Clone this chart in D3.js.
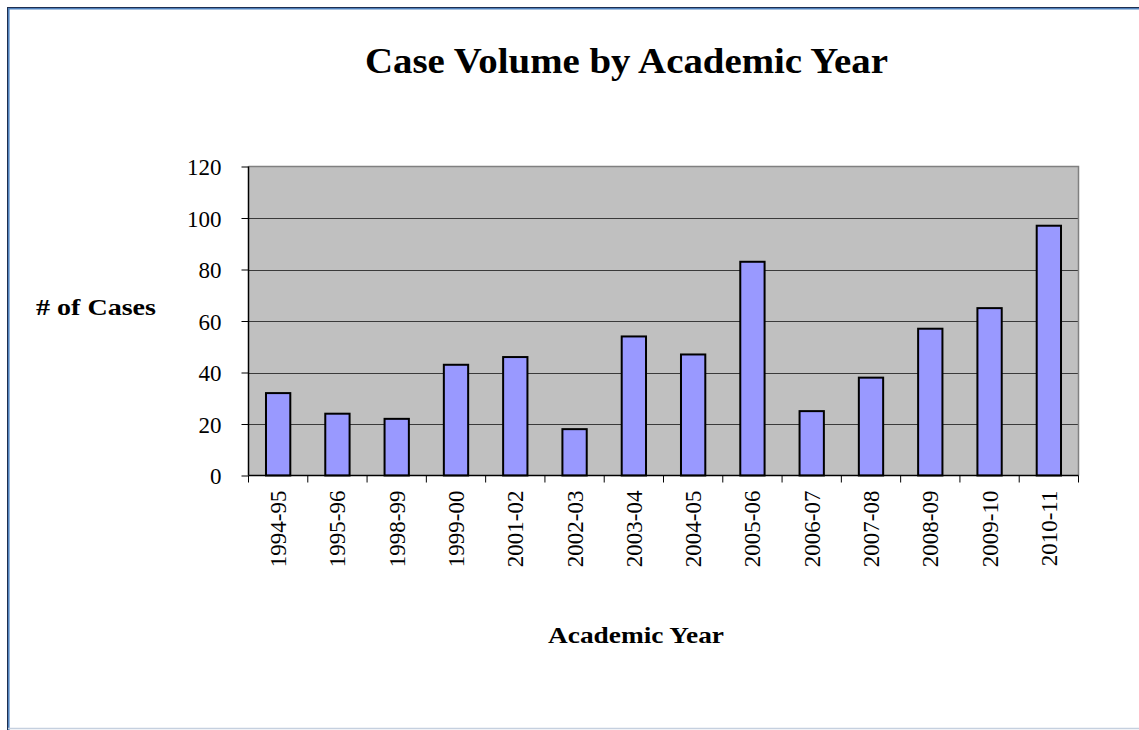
<!DOCTYPE html>
<html>
<head>
<meta charset="utf-8">
<script src="https://cdn.jsdelivr.net/npm/d3@7/dist/d3.min.js"></script>
<style>
  html, body { margin: 0; padding: 0; background: #ffffff; }
  svg { display: block; }
</style>
</head>
<body>
<svg id="chart" width="1139" height="730"></svg>
<script>
const categories = ["1994-95","1995-96","1998-99","1999-00","2001-02","2002-03","2003-04","2004-05","2005-06","2006-07","2007-08","2008-09","2009-10","2010-11"];
const cases = [32, 24, 22, 43, 46, 18, 54, 47, 83, 25, 38, 57, 65, 97];
const yTicks = [0, 20, 40, 60, 80, 100, 120];
const titleText = "Case Volume by Academic Year";
const yLabel = "# of Cases";
const xLabel = "Academic Year";

const svg = d3.select("#chart");
const W = 1139, H = 730;
const plot = { left: 248.5, right: 1078.5, top: 166.5, bottom: 475.5 };

// outer frame
svg.append("line").attr("x1", 7).attr("x2", W).attr("y1", 7.5).attr("y2", 7.5).attr("stroke", "#1f2f4f").attr("stroke-width", 1);
svg.append("line").attr("x1", 8).attr("x2", W).attr("y1", 8.8).attr("y2", 8.8).attr("stroke", "#4f81bd").attr("stroke-width", 1.6);
svg.append("line").attr("x1", 7.5).attr("x2", 7.5).attr("y1", 7).attr("y2", H).attr("stroke", "#1f2f4f").attr("stroke-width", 1);
svg.append("line").attr("x1", 8.8).attr("x2", 8.8).attr("y1", 8).attr("y2", H).attr("stroke", "#4f81bd").attr("stroke-width", 1.6);
svg.append("line").attr("x1", 8).attr("x2", W).attr("y1", 728.5).attr("y2", 728.5).attr("stroke", "#c5d0df").attr("stroke-width", 1.5);

const x = d3.scaleBand().domain(categories).range([plot.left, plot.right]).padding(0);
const y = d3.scaleLinear().domain([0, 120]).range([plot.bottom, plot.top]);

// plot background
svg.append("rect")
  .attr("x", plot.left).attr("y", plot.top)
  .attr("width", plot.right - plot.left).attr("height", plot.bottom - plot.top)
  .attr("fill", "#c0c0c0");

// gridlines
svg.append("g").selectAll("line")
  .data(yTicks.filter(d => d > 0 && d < 120))
  .join("line")
  .attr("x1", plot.left).attr("x2", plot.right)
  .attr("y1", d => Math.round(y(d)) + 0.5).attr("y2", d => Math.round(y(d)) + 0.5)
  .attr("stroke", "#3a3a3a").attr("stroke-width", 1);

// top & right plot border
svg.append("path")
  .attr("d", `M${plot.left},${plot.top}H${plot.right}V${plot.bottom}`)
  .attr("fill", "none").attr("stroke", "#808080").attr("stroke-width", 1.5);

// bars
const barW = x.bandwidth() * 0.41;
svg.append("g").selectAll("rect")
  .data(categories.map((c, i) => ({ c, v: cases[i] })))
  .join("rect")
  .attr("x", d => x(d.c) + (x.bandwidth() - barW) / 2)
  .attr("y", d => y(d.v))
  .attr("width", barW)
  .attr("height", d => y(0) - y(d.v))
  .attr("fill", "#9999ff")
  .attr("stroke", "#000000")
  .attr("stroke-width", 2);

// y axis
const yAxis = d3.axisLeft(y).tickValues(yTicks).tickSize(7).tickPadding(20);
const gy = svg.append("g").attr("transform", `translate(${plot.left},0)`).call(yAxis);
gy.select(".domain").attr("stroke", "#000").attr("stroke-width", 1.5).attr("d", `M0,${plot.top}V${plot.bottom}`);
gy.selectAll(".tick line").attr("stroke", "#000");
gy.selectAll(".tick text")
  .attr("font-family", "'Liberation Serif', 'Times New Roman', serif")
  .attr("font-size", 23).attr("fill", "#000").attr("dy", "0.35em");

// x axis with ticks at band boundaries
const gx = svg.append("g").attr("transform", `translate(0,${plot.bottom})`);
gx.append("line").attr("x1", plot.left).attr("x2", plot.right).attr("y1", 0).attr("y2", 0)
  .attr("stroke", "#000").attr("stroke-width", 1.5);
const boundaries = categories.map(c => x(c)).concat([plot.right]);
gx.selectAll("line.tk").data(boundaries).join("line").attr("class", "tk")
  .attr("x1", d => d).attr("x2", d => d).attr("y1", 0).attr("y2", 7)
  .attr("stroke", "#000").attr("stroke-width", 1);
gx.selectAll("text").data(categories).join("text")
  .attr("transform", d => `translate(${x(d) + x.bandwidth() / 2},15) rotate(-90)`)
  .attr("text-anchor", "end")
  .attr("dy", "0.35em")
  .attr("font-family", "'Liberation Serif', 'Times New Roman', serif")
  .attr("font-size", 23).attr("fill", "#000")
  .text(d => d);

// title
svg.append("text")
  .attr("x", 365).attr("y", 73)
  .attr("textLength", 523).attr("lengthAdjust", "spacingAndGlyphs")
  .attr("font-family", "'Liberation Serif', 'Times New Roman', serif")
  .attr("font-weight", "bold").attr("font-size", 35)
  .attr("fill", "#000")
  .text(titleText);

// y label
svg.append("text")
  .attr("x", 36).attr("y", 315)
  .attr("textLength", 120).attr("lengthAdjust", "spacingAndGlyphs")
  .attr("font-family", "'Liberation Serif', 'Times New Roman', serif")
  .attr("font-weight", "bold").attr("font-size", 23)
  .attr("fill", "#000")
  .text(yLabel);

// x label
svg.append("text")
  .attr("x", 548).attr("y", 643)
  .attr("textLength", 176).attr("lengthAdjust", "spacingAndGlyphs")
  .attr("font-family", "'Liberation Serif', 'Times New Roman', serif")
  .attr("font-weight", "bold").attr("font-size", 23)
  .attr("fill", "#000")
  .text(xLabel);
</script>
</body>
</html>
